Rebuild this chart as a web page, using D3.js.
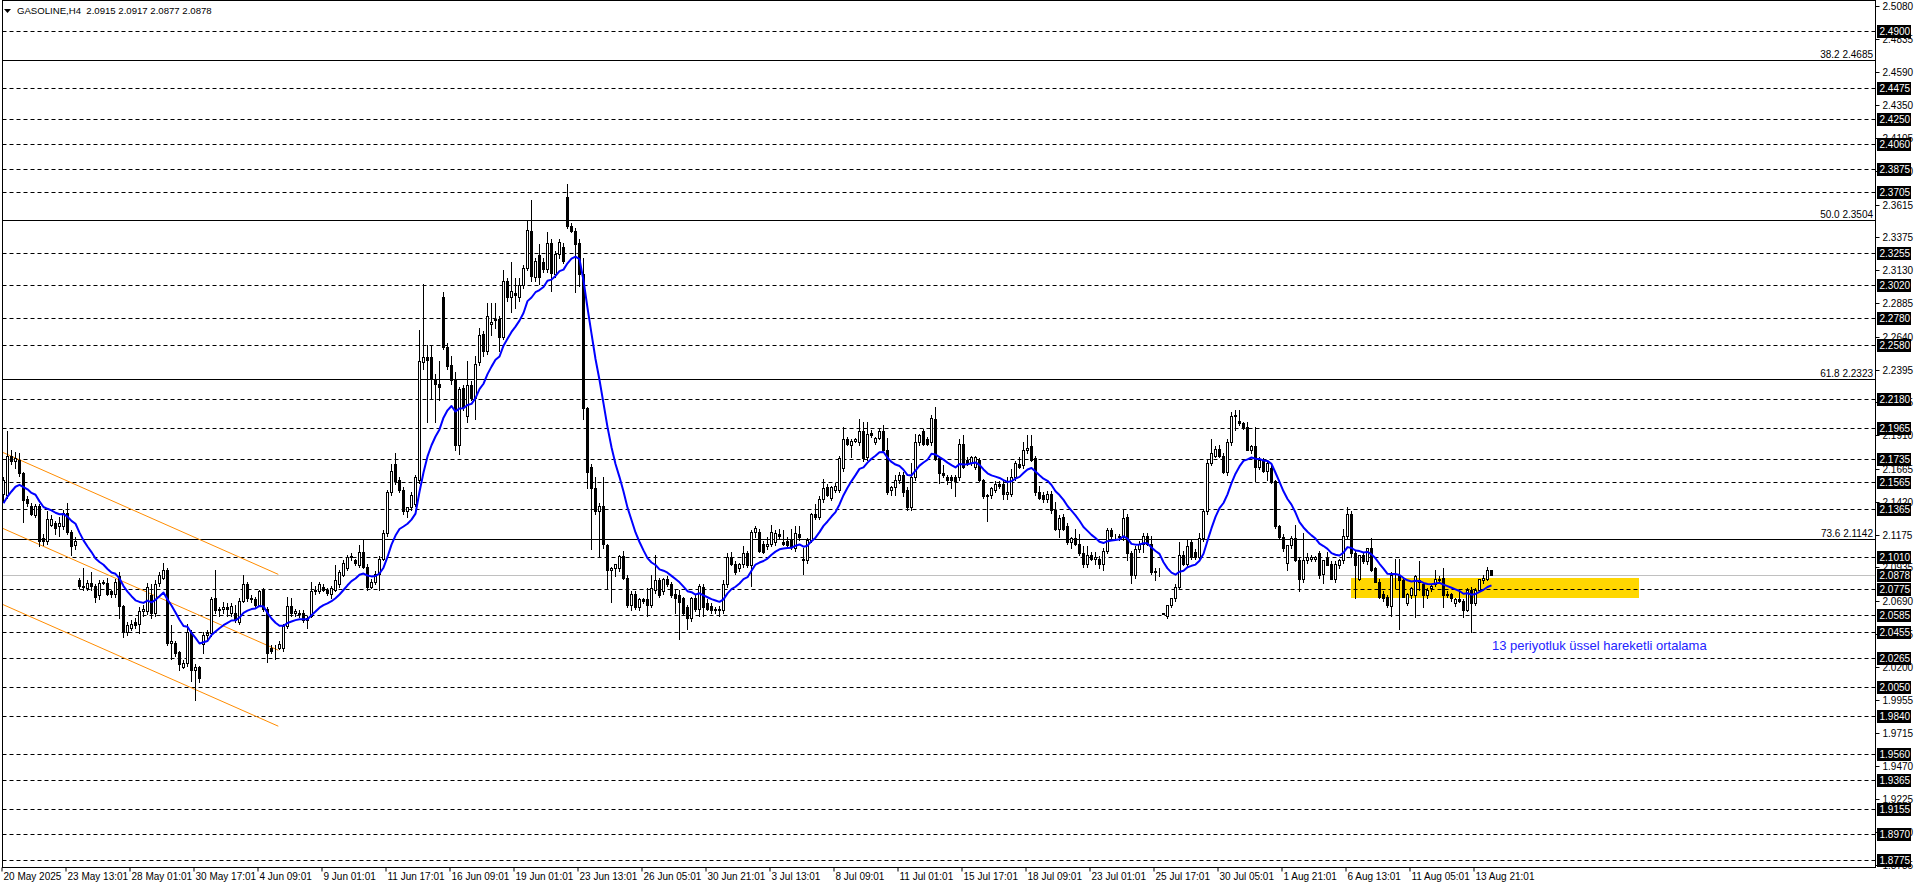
<!DOCTYPE html>
<html><head><meta charset="utf-8">
<script src="https://cdn.jsdelivr.net/npm/d3@7"></script>
<style>
html,body{margin:0;padding:0;background:#fff;overflow:hidden}
svg{display:block;font-family:"Liberation Sans",Arial,sans-serif}
</style></head><body>
<svg id="chart" width="1916" height="888"></svg>
<script>
// ---------------- DATA ----------------
const symbolTitle = "GASOLINE,H4  2.0915 2.0917 2.0877 2.0878";

// H4 candles [open, high, low, close], oldest first (20 May 2025 -> 14 Aug 2025)
const ohlc = [
// 0-19
[2.148,2.160,2.142,2.158],[2.147,2.194,2.145,2.176],[2.176,2.180,2.170,2.172],[2.172,2.179,2.167,2.174],[2.173,2.178,2.161,2.163],
[2.163,2.164,2.127,2.143],[2.144,2.146,2.139,2.141],[2.139,2.141,2.132,2.133],[2.132,2.140,2.131,2.139],[2.139,2.140,2.109,2.113],
[2.115,2.118,2.110,2.113],[2.113,2.135,2.111,2.129],[2.125,2.132,2.124,2.129],[2.126,2.128,2.118,2.123],[2.124,2.131,2.117,2.126],
[2.124,2.136,2.122,2.134],[2.134,2.141,2.118,2.120],[2.120,2.121,2.103,2.109],[2.110,2.116,2.107,2.113],[2.084,2.086,2.078,2.080],
// 20-39
[2.080,2.093,2.077,2.079],[2.078,2.084,2.077,2.082],[2.082,2.090,2.077,2.080],[2.080,2.081,2.068,2.072],[2.073,2.084,2.070,2.082],
[2.082,2.084,2.081,2.083],[2.082,2.086,2.073,2.074],[2.076,2.077,2.072,2.074],[2.074,2.085,2.072,2.083],[2.087,2.090,2.056,2.065],
[2.065,2.066,2.042,2.046],[2.046,2.053,2.044,2.051],[2.049,2.055,2.047,2.052],[2.053,2.056,2.049,2.051],[2.052,2.064,2.045,2.061],
[2.061,2.066,2.058,2.063],[2.061,2.082,2.059,2.079],[2.073,2.081,2.056,2.060],[2.060,2.084,2.058,2.081],[2.082,2.090,2.080,2.088],
// 40-59
[2.086,2.097,2.085,2.092],[2.092,2.093,2.036,2.038],[2.038,2.051,2.026,2.039],[2.038,2.039,2.028,2.030],[2.031,2.032,2.018,2.022],
[2.020,2.025,2.019,2.023],[2.023,2.052,2.021,2.046],[2.046,2.047,2.010,2.018],[2.018,2.022,1.996,2.020],[2.020,2.021,2.009,2.012],
[2.037,2.046,2.030,2.044],[2.044,2.047,2.041,2.045],[2.045,2.072,2.043,2.070],[2.071,2.092,2.060,2.062],[2.062,2.064,2.058,2.063],
[2.063,2.068,2.060,2.064],[2.064,2.067,2.058,2.063],[2.060,2.067,2.058,2.065],[2.060,2.066,2.053,2.055],[2.053,2.071,2.052,2.069],
// 60-79
[2.069,2.088,2.068,2.081],[2.081,2.083,2.069,2.071],[2.071,2.073,2.068,2.070],[2.070,2.072,2.064,2.066],[2.066,2.077,2.065,2.076],
[2.077,2.078,2.061,2.063],[2.063,2.064,2.024,2.030],[2.034,2.036,2.030,2.032],[2.034,2.036,2.026,2.034],[2.034,2.039,2.033,2.037],
[2.034,2.052,2.032,2.050],[2.050,2.072,2.049,2.065],[2.065,2.071,2.058,2.060],[2.060,2.063,2.058,2.061],[2.060,2.062,2.057,2.059],
[2.060,2.062,2.053,2.055],[2.055,2.058,2.049,2.056],[2.058,2.083,2.057,2.076],[2.076,2.080,2.074,2.077],[2.076,2.083,2.075,2.081],
// 80-99
[2.079,2.081,2.076,2.077],[2.077,2.078,2.073,2.075],[2.074,2.080,2.071,2.078],[2.077,2.095,2.076,2.084],[2.081,2.092,2.079,2.090],
[2.088,2.099,2.087,2.097],[2.093,2.103,2.092,2.101],[2.101,2.104,2.099,2.102],[2.099,2.100,2.095,2.097],[2.095,2.110,2.094,2.105],
[2.105,2.114,2.093,2.094],[2.094,2.096,2.077,2.079],[2.079,2.085,2.078,2.083],[2.083,2.091,2.081,2.089],[2.089,2.102,2.077,2.100],
[2.100,2.121,2.099,2.119],[2.119,2.151,2.117,2.149],[2.149,2.170,2.147,2.165],[2.170,2.178,2.155,2.157],[2.158,2.160,2.149,2.151],
// 100-119
[2.151,2.153,2.133,2.135],[2.135,2.138,2.131,2.138],[2.138,2.149,2.136,2.147],[2.140,2.162,2.139,2.160],[2.158,2.269,2.156,2.246],
[2.245,2.303,2.240,2.249],[2.249,2.258,2.201,2.247],[2.249,2.258,2.219,2.233],[2.233,2.236,2.201,2.229],[2.229,2.246,2.217,2.227],
[2.293,2.297,2.255,2.256],[2.256,2.259,2.240,2.242],[2.243,2.250,2.229,2.232],[2.232,2.238,2.180,2.184],[2.184,2.227,2.177,2.225],
[2.226,2.228,2.210,2.212],[2.205,2.246,2.201,2.228],[2.228,2.231,2.217,2.219],[2.219,2.250,2.203,2.244],[2.245,2.270,2.243,2.265],
// 120-139
[2.266,2.268,2.250,2.253],[2.253,2.289,2.251,2.279],[2.273,2.289,2.265,2.275],[2.276,2.289,2.270,2.277],[2.277,2.279,2.253,2.264],
[2.264,2.313,2.262,2.305],[2.305,2.307,2.290,2.293],[2.293,2.319,2.282,2.298],[2.296,2.307,2.285,2.295],[2.293,2.307,2.290,2.302],
[2.302,2.317,2.300,2.315],[2.315,2.350,2.313,2.343],[2.342,2.365,2.305,2.309],[2.308,2.322,2.305,2.320],[2.324,2.332,2.303,2.308],
[2.319,2.322,2.312,2.314],[2.314,2.341,2.312,2.333],[2.333,2.336,2.298,2.311],[2.310,2.327,2.308,2.325],[2.325,2.336,2.322,2.334],
// 140-159
[2.330,2.333,2.318,2.320],[2.367,2.377,2.344,2.346],[2.346,2.348,2.341,2.342],[2.342,2.344,2.297,2.332],[2.333,2.336,2.301,2.310],
[2.310,2.322,2.203,2.211],[2.211,2.212,2.152,2.164],[2.168,2.170,2.107,2.152],[2.152,2.160,2.133,2.135],[2.135,2.141,2.102,2.139],
[2.139,2.160,2.108,2.111],[2.110,2.111,2.078,2.092],[2.092,2.094,2.068,2.093],[2.093,2.096,2.087,2.096],[2.093,2.103,2.091,2.102],
[2.102,2.106,2.085,2.086],[2.086,2.088,2.064,2.066],[2.066,2.076,2.062,2.074],[2.074,2.076,2.063,2.064],[2.064,2.071,2.062,2.070],
// 160-179
[2.070,2.071,2.067,2.069],[2.070,2.078,2.058,2.066],[2.066,2.088,2.064,2.078],[2.077,2.103,2.075,2.084],[2.084,2.086,2.072,2.073],
[2.076,2.086,2.074,2.085],[2.085,2.087,2.080,2.081],[2.081,2.083,2.072,2.073],[2.074,2.077,2.060,2.071],[2.073,2.077,2.041,2.068],
[2.071,2.072,2.059,2.060],[2.064,2.066,2.048,2.056],[2.056,2.072,2.054,2.071],[2.071,2.074,2.061,2.063],[2.063,2.081,2.058,2.080],
[2.079,2.081,2.058,2.064],[2.067,2.070,2.062,2.063],[2.065,2.067,2.060,2.062],[2.062,2.064,2.060,2.063],[2.063,2.065,2.058,2.062],
// 180-199
[2.062,2.084,2.060,2.081],[2.081,2.104,2.079,2.101],[2.101,2.105,2.095,2.096],[2.096,2.098,2.089,2.090],[2.093,2.097,2.091,2.096],
[2.096,2.109,2.094,2.104],[2.104,2.106,2.094,2.095],[2.095,2.121,2.080,2.120],[2.120,2.124,2.116,2.123],[2.120,2.122,2.105,2.106],
[2.111,2.113,2.104,2.105],[2.109,2.116,2.107,2.111],[2.111,2.125,2.109,2.120],[2.112,2.121,2.110,2.119],[2.118,2.122,2.115,2.117],
[2.112,2.121,2.110,2.111],[2.113,2.116,2.109,2.110],[2.114,2.122,2.107,2.109],[2.108,2.124,2.106,2.119],[2.118,2.124,2.114,2.116],
// 200-219
[2.100,2.108,2.089,2.099],[2.099,2.115,2.097,2.114],[2.114,2.134,2.112,2.133],[2.133,2.140,2.129,2.131],[2.131,2.146,2.129,2.144],
[2.144,2.159,2.142,2.152],[2.153,2.155,2.146,2.147],[2.145,2.154,2.143,2.153],[2.151,2.156,2.149,2.154],[2.151,2.176,2.149,2.174],
[2.167,2.197,2.165,2.188],[2.188,2.190,2.184,2.185],[2.184,2.188,2.175,2.187],[2.187,2.189,2.186,2.188],[2.186,2.203,2.184,2.194],
[2.194,2.201,2.172,2.174],[2.175,2.201,2.173,2.192],[2.193,2.195,2.190,2.191],[2.186,2.190,2.185,2.189],[2.189,2.196,2.188,2.194],
// 220-239
[2.194,2.199,2.179,2.180],[2.180,2.189,2.148,2.149],[2.151,2.154,2.147,2.153],[2.153,2.162,2.147,2.158],[2.158,2.164,2.156,2.162],
[2.162,2.164,2.146,2.149],[2.151,2.153,2.136,2.138],[2.138,2.171,2.136,2.160],[2.160,2.192,2.158,2.186],[2.186,2.192,2.184,2.191],
[2.194,2.196,2.184,2.185],[2.188,2.190,2.184,2.185],[2.186,2.206,2.184,2.204],[2.203,2.212,2.173,2.174],[2.174,2.176,2.156,2.163],
[2.163,2.169,2.160,2.162],[2.160,2.162,2.155,2.158],[2.160,2.162,2.152,2.158],[2.160,2.162,2.146,2.157],[2.160,2.188,2.158,2.185],
// 240-259
[2.185,2.191,2.167,2.168],[2.173,2.175,2.169,2.170],[2.171,2.176,2.169,2.175],[2.168,2.176,2.166,2.175],[2.173,2.174,2.157,2.158],
[2.158,2.159,2.145,2.146],[2.147,2.148,2.128,2.146],[2.147,2.153,2.145,2.152],[2.151,2.157,2.149,2.155],[2.155,2.157,2.152,2.154],
[2.155,2.157,2.144,2.148],[2.148,2.160,2.144,2.149],[2.148,2.166,2.146,2.160],[2.160,2.172,2.158,2.171],[2.170,2.175,2.167,2.168],
[2.169,2.186,2.167,2.180],[2.180,2.191,2.178,2.182],[2.183,2.191,2.172,2.173],[2.174,2.176,2.147,2.149],[2.149,2.154,2.144,2.145],
// 260-279
[2.147,2.149,2.142,2.144],[2.144,2.150,2.142,2.148],[2.148,2.150,2.134,2.136],[2.136,2.142,2.121,2.122],[2.122,2.132,2.116,2.130],
[2.131,2.133,2.121,2.122],[2.124,2.126,2.111,2.112],[2.112,2.116,2.108,2.115],[2.115,2.122,2.110,2.111],[2.111,2.118,2.103,2.104],
[2.104,2.109,2.094,2.096],[2.096,2.109,2.094,2.103],[2.103,2.105,2.099,2.100],[2.100,2.105,2.096,2.101],[2.100,2.102,2.093,2.096],
[2.096,2.108,2.092,2.106],[2.106,2.123,2.104,2.121],[2.121,2.123,2.115,2.117],[2.116,2.118,2.114,2.116],[2.116,2.118,2.114,2.117],
// 280-299
[2.116,2.136,2.114,2.130],[2.131,2.133,2.099,2.104],[2.104,2.106,2.082,2.088],[2.088,2.109,2.086,2.107],[2.107,2.113,2.105,2.111],
[2.111,2.119,2.105,2.117],[2.117,2.119,2.110,2.111],[2.111,2.117,2.089,2.090],[2.091,2.093,2.084,2.090],[2.091,2.093,2.087,2.091],
[2.0595,2.0600,2.0590,2.0598],[2.058,2.066,2.0565,2.066],[2.066,2.071,2.064,2.071],[2.071,2.081,2.069,2.079],[2.079,2.112,2.078,2.103],
[2.103,2.106,2.095,2.096],[2.096,2.114,2.094,2.109],[2.112,2.114,2.100,2.101],[2.105,2.107,2.100,2.101],[2.101,2.119,2.099,2.115],
// 300-319
[2.115,2.137,2.113,2.135],[2.135,2.173,2.133,2.171],[2.171,2.188,2.169,2.178],[2.176,2.183,2.175,2.181],[2.181,2.184,2.175,2.176],
[2.176,2.178,2.163,2.164],[2.164,2.188,2.162,2.186],[2.186,2.208,2.184,2.205],[2.206,2.210,2.195,2.205],[2.202,2.210,2.199,2.200],
[2.200,2.201,2.196,2.197],[2.197,2.201,2.180,2.180],[2.180,2.184,2.178,2.183],[2.183,2.197,2.157,2.168],[2.168,2.175,2.166,2.173],
[2.172,2.174,2.164,2.165],[2.165,2.172,2.158,2.171],[2.167,2.169,2.156,2.157],[2.157,2.158,2.123,2.124],[2.124,2.125,2.115,2.116],
// 320-339
[2.116,2.118,2.106,2.108],[2.097,2.110,2.092,2.110],[2.110,2.117,2.108,2.115],[2.115,2.125,2.098,2.099],[2.099,2.101,2.076,2.085],
[2.085,2.119,2.083,2.099],[2.099,2.104,2.097,2.101],[2.100,2.103,2.098,2.101],[2.100,2.102,2.098,2.101],[2.104,2.106,2.086,2.088],
[2.089,2.099,2.082,2.099],[2.101,2.105,2.096,2.095],[2.096,2.098,2.085,2.085],[2.085,2.098,2.083,2.096],[2.095,2.100,2.093,2.099],
[2.099,2.122,2.097,2.117],[2.117,2.138,2.115,2.133],[2.133,2.135,2.101,2.104],[2.104,2.106,2.071,2.095],[2.085,2.103,2.084,2.103],
// 340-359
[2.103,2.105,2.097,2.098],[2.098,2.108,2.096,2.108],[2.108,2.115,2.091,2.092],[2.093,2.094,2.083,2.083],[2.083,2.085,2.071,2.072],
[2.074,2.076,2.069,2.071],[2.072,2.073,2.064,2.066],[2.065,2.090,2.058,2.088],[2.088,2.100,2.078,2.088],[2.088,2.100,2.048,2.084],
[2.084,2.086,2.072,2.072],[2.067,2.075,2.066,2.074],[2.073,2.079,2.071,2.078],[2.073,2.088,2.057,2.087],[2.084,2.098,2.077,2.083],
[2.081,2.083,2.064,2.073],[2.073,2.078,2.071,2.077],[2.078,2.081,2.076,2.080],[2.081,2.092,2.080,2.085],[2.084,2.087,2.082,2.085],
// 360-372
[2.086,2.093,2.064,2.073],[2.074,2.076,2.072,2.073],[2.074,2.075,2.069,2.071],[2.067,2.071,2.065,2.070],[2.070,2.076,2.068,2.069],
[2.069,2.070,2.057,2.062],[2.062,2.078,2.061,2.077],[2.077,2.079,2.046,2.067],[2.067,2.078,2.066,2.077],[2.077,2.085,2.076,2.085],
[2.084,2.088,2.082,2.086],[2.085,2.0935,2.084,2.0915],[2.0915,2.0917,2.0877,2.0878]
];

// 13-period EMA, value carried in from before the first visible bar
const emaPeriod = 13;
const emaSeed = 2.138;

// horizontal support/resistance levels (dashed, with black price boxes)
const levelPrices = [2.4900,2.4475,2.4250,2.4060,2.3875,2.3705,2.3255,2.3020,2.2780,2.2580,
  2.2180,2.1965,2.1735,2.1565,2.1365,2.1010,2.0775,2.0585,2.0455,2.0265,2.0050,1.9840,
  1.9560,1.9365,1.9155,1.8970,1.8775];

// Fibonacci retracement lines
const fibRatios = ["38.2","50.0","61.8","73.6"];
const fibPrices = [2.4685,2.3504,2.2323,2.1142];

const currentPrice = 2.0878;

// price axis tick labels
const priceTicks = [2.5080,2.4835,2.4590,2.4350,2.4105,2.3860,2.3615,2.3375,2.3130,2.2885,
  2.2640,2.2395,2.2155,2.1910,2.1665,2.1420,2.1175,2.0935,2.0690,2.0445,2.0200,1.9955,
  1.9715,1.9470,1.9225,1.8980,1.8735];

// time axis labels (one every 16 bars)
const timeLabelStep = 16;
const timeLabels = ["20 May 2025","23 May 13:01","28 May 01:01","30 May 17:01","4 Jun 09:01",
  "9 Jun 01:01","11 Jun 17:01","16 Jun 09:01","19 Jun 01:01","23 Jun 13:01","26 Jun 05:01",
  "30 Jun 21:01","3 Jul 13:01","8 Jul 09:01","11 Jul 01:01","15 Jul 17:01","18 Jul 09:01",
  "23 Jul 01:01","25 Jul 17:01","30 Jul 05:01","1 Aug 21:01","6 Aug 13:01","11 Aug 05:01","13 Aug 21:01"];

// descending channel (bar index at both ends, prices of the three lines)
const channelBars = [-0.2, 68.7];
const channelUpper = [2.1785, 2.0884];
const channelMiddle = [2.1224, 2.0324];
const channelLower = [2.0662, 1.9763];

// highlighted zone
const zoneBars = [336.8, 408.9];
const zonePrices = [2.0856, 2.0709];

const emaNote = "13 periyotluk üssel hareketli ortalama";

// ---------------- DRAW ----------------
const svg = d3.select("#chart");
const plotL = 2.5, plotR = 1875.5, plotT = 0.5, plotB = 867.5;

const x = d3.scaleLinear().domain([0, ohlc.length - 1]).range([3.5, 3.5 + 4 * (ohlc.length - 1)]);
const y = d3.scaleLinear().domain([2.49, 1.8775]).range([30.5, 860]);
const py = v => Math.round(y(v)) + 0.5;

svg.append("rect").attr("width", 1916).attr("height", 888).attr("fill", "#fff");

svg.append("clipPath").attr("id", "plotclip").append("rect")
  .attr("x", plotL).attr("y", plotT).attr("width", plotR - plotL).attr("height", plotB - plotT);
const plot = svg.append("g").attr("clip-path", "url(#plotclip)");

// zone
plot.append("rect")
  .attr("x", Math.round(x(zoneBars[0])))
  .attr("y", Math.round(y(zonePrices[0])))
  .attr("width", Math.round(x(zoneBars[1])) - Math.round(x(zoneBars[0])))
  .attr("height", Math.round(y(zonePrices[1])) - Math.round(y(zonePrices[0])))
  .attr("fill", "#ffd700");

// level lines
plot.selectAll("line.lvl").data(levelPrices).join("line").attr("class", "lvl")
  .attr("x1", plotL).attr("x2", plotR).attr("y1", d => py(d)).attr("y2", d => py(d))
  .attr("stroke", "#000").attr("stroke-width", 1).attr("stroke-dasharray", "4,3");

// current price line
plot.append("line").attr("x1", plotL).attr("x2", plotR)
  .attr("y1", py(currentPrice)).attr("y2", py(currentPrice))
  .attr("stroke", "#c0c0c0").attr("stroke-width", 1);

// fib lines
plot.selectAll("line.fib").data(fibPrices).join("line").attr("class", "fib")
  .attr("x1", plotL).attr("x2", plotR).attr("y1", d => py(d)).attr("y2", d => py(d))
  .attr("stroke", "#000").attr("stroke-width", 1);
svg.selectAll("text.fib").data(fibPrices).join("text").attr("class", "fib")
  .attr("x", 1873).attr("y", d => py(d) - 2.5).attr("text-anchor", "end")
  .attr("font-size", 10).attr("fill", "#000")
  .text((d, i) => fibRatios[i] + " " + d.toFixed(4));

// channel
const chLine = d3.line().x(d => x(d[0])).y(d => y(d[1]));
[channelUpper, channelMiddle, channelLower].forEach(c => {
  plot.append("path").attr("d", chLine([[channelBars[0], c[0]], [channelBars[1], c[1]]]))
    .attr("fill", "none").attr("stroke", "#ff8c00").attr("stroke-width", 1);
});

// candles
const cg = plot.append("g");
ohlc.forEach((d, i) => {
  const [o, h, l, c] = d;
  const xc = x(i);
  cg.append("line").attr("x1", xc).attr("x2", xc)
    .attr("y1", Math.round(y(h))).attr("y2", Math.round(y(l)) + 1)
    .attr("stroke", "#000").attr("stroke-width", 1);
  const top = Math.round(y(Math.max(o, c))), bot = Math.round(y(Math.min(o, c)));
  if (c >= o) {
    cg.append("rect").attr("x", xc - 1).attr("y", top + 0.5)
      .attr("width", 2).attr("height", Math.max(0, bot - top))
      .attr("fill", "#fff").attr("stroke", "#000").attr("stroke-width", 1);
  } else {
    cg.append("rect").attr("x", xc - 1.5).attr("y", top)
      .attr("width", 3).attr("height", Math.max(1, bot - top + 1))
      .attr("fill", "#000");
  }
});

// EMA 13
const k = 2 / (emaPeriod + 1);
let prev = emaSeed;
const ema = ohlc.map(d => (prev = prev + k * (d[3] - prev)));
plot.append("path")
  .attr("d", d3.line().x((d, i) => x(i)).y(d => y(d))(ema))
  .attr("fill", "none").attr("stroke", "#0000ff").attr("stroke-width", 2)
  .attr("stroke-linejoin", "round");

// annotation
svg.append("text").attr("x", x(372) + 0.5).attr("y", y(2.0322))
  .attr("font-size", 13).attr("fill", "#2323ff").text(emaNote);

// header
svg.append("path").attr("d", "M4,9 L11,9 L7.5,13 Z").attr("fill", "#000");
svg.append("text").attr("x", 17).attr("y", 14).attr("font-size", 9.6)
  .attr("fill", "#000").attr("xml:space", "preserve").style("white-space", "pre").text(symbolTitle);

// frame
svg.append("rect").attr("x", plotL).attr("y", plotT)
  .attr("width", plotR - plotL).attr("height", plotB - plotT)
  .attr("fill", "none").attr("stroke", "#000").attr("stroke-width", 1);

// price axis
const yAxis = d3.axisRight(y).tickValues(priceTicks).tickFormat(d3.format(".4f"))
  .tickSize(4).tickSizeOuter(0).tickPadding(3);
const ya = svg.append("g").attr("transform", `translate(${plotR},0)`).call(yAxis);
ya.select(".domain").remove();
ya.selectAll(".tick").attr("transform", d => `translate(0,${py(d)})`);
ya.selectAll(".tick line").attr("stroke", "#000");
ya.selectAll(".tick text").attr("font-size", 10).attr("font-family", "Liberation Sans, Arial, sans-serif")
  .attr("fill", "#000").attr("dy", "0.34em");

// level price boxes
const boxes = svg.append("g");
[...levelPrices, currentPrice].forEach(p => {
  const yy = Math.round(y(p));
  boxes.append("rect").attr("x", 1877).attr("y", yy - 6).attr("width", 34).attr("height", 13).attr("fill", "#000");
  boxes.append("text").attr("x", 1879.5).attr("y", yy + 4).attr("font-size", 10)
    .attr("fill", "#fff").text(p.toFixed(4));
});

// time axis
const tickBars = timeLabels.map((_, i) => i * timeLabelStep);
const xAxis = d3.axisBottom(x).tickValues(tickBars)
  .tickFormat((d, i) => timeLabels[i]).tickSize(4).tickSizeOuter(0);
const xa = svg.append("g").attr("transform", `translate(-2,${plotB})`).call(xAxis);
xa.select(".domain").remove();
xa.selectAll(".tick line").attr("stroke", "#000");
xa.selectAll(".tick text").attr("font-size", 10).attr("font-family", "Liberation Sans, Arial, sans-serif")
  .attr("fill", "#000").attr("text-anchor", "start").attr("x", 1.5).attr("y", 5).attr("dy", "0.71em");
</script>
</body></html>
